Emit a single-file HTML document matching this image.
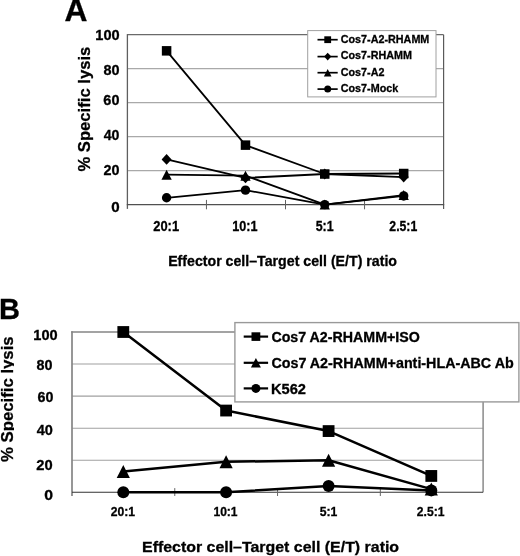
<!DOCTYPE html>
<html><head><meta charset="utf-8"><title>Specific lysis chart</title><style>
html,body{margin:0;padding:0;background:#fff;width:520px;height:556px;overflow:hidden;}
svg{display:block;filter:grayscale(1);}
text{font-family:"Liberation Sans", sans-serif;font-weight:bold;fill:#000;stroke:#000;stroke-width:0.3px;}
</style></head><body>
<svg width="520" height="556" viewBox="0 0 520 556">
<defs>
<clipPath id="cA"><rect x="60" y="30" width="30.6" height="150"/></clipPath>
<clipPath id="cB"><rect x="-5" y="320" width="19" height="150"/></clipPath>
</defs>
<line x1="127.40" y1="170.62" x2="443.60" y2="170.62" stroke="#a9a9a9" stroke-width="1.2"/>
<line x1="127.40" y1="136.64" x2="443.60" y2="136.64" stroke="#a9a9a9" stroke-width="1.2"/>
<line x1="127.40" y1="102.66" x2="443.60" y2="102.66" stroke="#a9a9a9" stroke-width="1.2"/>
<line x1="127.40" y1="68.68" x2="443.60" y2="68.68" stroke="#a9a9a9" stroke-width="1.2"/>
<line x1="127.40" y1="34.70" x2="443.60" y2="34.70" stroke="#6a6a6a" stroke-width="1.2"/>
<line x1="443.60" y1="34.70" x2="443.60" y2="209.10" stroke="#5a5a5a" stroke-width="1.2"/>
<line x1="127.40" y1="34.10" x2="127.40" y2="208.90" stroke="#5f5f5f" stroke-width="1.3"/>
<line x1="126.80" y1="204.60" x2="444.20" y2="204.60" stroke="#505050" stroke-width="1.4"/>
<line x1="206.45" y1="199.90" x2="206.45" y2="209.30" stroke="#606060" stroke-width="1.0"/>
<line x1="285.50" y1="199.90" x2="285.50" y2="209.30" stroke="#606060" stroke-width="1.0"/>
<line x1="364.55" y1="199.90" x2="364.55" y2="209.30" stroke="#606060" stroke-width="1.0"/>
<polyline points="166.60,159.41 245.50,177.93 324.75,174.02 403.70,177.08" fill="none" stroke="#000" stroke-width="1.8" stroke-linejoin="round"/>
<polyline points="166.60,174.70 245.50,175.72 324.75,204.60 403.70,195.09" fill="none" stroke="#000" stroke-width="1.8" stroke-linejoin="round"/>
<polyline points="166.60,197.80 245.50,190.16 324.75,204.60 403.70,195.94" fill="none" stroke="#000" stroke-width="1.8" stroke-linejoin="round"/>
<polyline points="166.60,50.84 245.50,145.13 324.75,174.02 403.70,173.51" fill="none" stroke="#000" stroke-width="1.8" stroke-linejoin="round"/>
<polygon points="166.60,154.01 171.60,159.41 166.60,164.81 161.60,159.41" fill="#000"/>
<polygon points="245.50,172.53 250.50,177.93 245.50,183.33 240.50,177.93" fill="#000"/>
<polygon points="324.75,168.62 329.75,174.02 324.75,179.42 319.75,174.02" fill="#000"/>
<polygon points="403.70,171.68 408.70,177.08 403.70,182.48 398.70,177.08" fill="#000"/>
<polygon points="166.60,169.70 171.75,179.70 161.45,179.70" fill="#000"/>
<polygon points="245.50,170.72 250.65,180.72 240.35,180.72" fill="#000"/>
<polygon points="324.75,199.60 329.90,209.60 319.60,209.60" fill="#000"/>
<polygon points="403.70,190.09 408.85,200.09 398.55,200.09" fill="#000"/>
<ellipse cx="166.60" cy="197.80" rx="4.70" ry="4.70" fill="#000"/>
<ellipse cx="245.50" cy="190.16" rx="4.70" ry="4.70" fill="#000"/>
<ellipse cx="324.75" cy="204.60" rx="4.70" ry="4.70" fill="#000"/>
<ellipse cx="403.70" cy="195.94" rx="4.70" ry="4.70" fill="#000"/>
<rect x="161.85" y="46.09" width="9.50" height="9.50" fill="#000"/>
<rect x="240.75" y="140.38" width="9.50" height="9.50" fill="#000"/>
<rect x="320.00" y="169.27" width="9.50" height="9.50" fill="#000"/>
<rect x="398.95" y="168.76" width="9.50" height="9.50" fill="#000"/>
<text x="95.39" y="39.87" font-size="14.00" textLength="24.31" lengthAdjust="spacingAndGlyphs">100</text>
<text x="103.43" y="75.02" font-size="14.00" textLength="16.08" lengthAdjust="spacingAndGlyphs">80</text>
<text x="103.36" y="105.02" font-size="14.00" textLength="16.05" lengthAdjust="spacingAndGlyphs">60</text>
<text x="103.69" y="140.02" font-size="14.00" textLength="15.71" lengthAdjust="spacingAndGlyphs">40</text>
<text x="103.40" y="175.02" font-size="14.00" textLength="16.01" lengthAdjust="spacingAndGlyphs">20</text>
<text x="111.19" y="211.87" font-size="14.00" textLength="8.43" lengthAdjust="spacingAndGlyphs">0</text>
<text x="153.25" y="230.70" font-size="14.20" textLength="25.83" lengthAdjust="spacingAndGlyphs">20:1</text>
<text x="232.31" y="230.70" font-size="14.20" textLength="25.25" lengthAdjust="spacingAndGlyphs">10:1</text>
<text x="315.63" y="230.70" font-size="14.20" textLength="17.92" lengthAdjust="spacingAndGlyphs">5:1</text>
<text x="389.37" y="230.70" font-size="14.20" textLength="27.89" lengthAdjust="spacingAndGlyphs">2.5:1</text>
<text x="168.14" y="265.70" font-size="14.30" textLength="228.89" lengthAdjust="spacingAndGlyphs">Effector cell–Target cell (E/T) ratio</text>
<g><text transform="translate(89.80,171.20) rotate(-90)" x="-0.42" y="0" font-size="17.30" textLength="124.91" lengthAdjust="spacingAndGlyphs">% Specific lysis</text></g>
<text x="64.61" y="21.40" font-size="31.50" textLength="22.96" lengthAdjust="spacingAndGlyphs">A</text>
<rect x="307.7" y="30.6" width="128.3" height="66.3" fill="#fff" stroke="#a0a0a0" stroke-width="1"/>
<line x1="317.50" y1="39.70" x2="337.70" y2="39.70" stroke="#000" stroke-width="1.7"/>
<rect x="324.30" y="36.30" width="6.80" height="6.80" fill="#000"/>
<text x="340.77" y="43.10" font-size="11.50" textLength="88.56" lengthAdjust="spacingAndGlyphs">Cos7-A2-RHAMM</text>
<line x1="317.50" y1="56.60" x2="337.70" y2="56.60" stroke="#000" stroke-width="1.7"/>
<polygon points="327.70,52.70 331.30,56.60 327.70,60.50 324.10,56.60" fill="#000"/>
<text x="340.77" y="59.30" font-size="11.50" textLength="71.20" lengthAdjust="spacingAndGlyphs">Cos7-RHAMM</text>
<line x1="317.50" y1="72.70" x2="337.70" y2="72.70" stroke="#000" stroke-width="1.7"/>
<polygon points="327.70,68.90 331.50,76.50 323.90,76.50" fill="#000"/>
<text x="340.77" y="75.60" font-size="11.50" textLength="43.69" lengthAdjust="spacingAndGlyphs">Cos7-A2</text>
<line x1="317.50" y1="89.10" x2="337.70" y2="89.10" stroke="#000" stroke-width="1.7"/>
<ellipse cx="327.70" cy="89.10" rx="3.50" ry="3.50" fill="#000"/>
<text x="340.77" y="92.40" font-size="11.50" textLength="57.45" lengthAdjust="spacingAndGlyphs">Cos7-Mock</text>
<line x1="72.00" y1="460.24" x2="483.10" y2="460.24" stroke="#a0a0a0" stroke-width="1.1"/>
<line x1="72.00" y1="428.18" x2="483.10" y2="428.18" stroke="#a0a0a0" stroke-width="1.1"/>
<line x1="72.00" y1="396.12" x2="483.10" y2="396.12" stroke="#a0a0a0" stroke-width="1.1"/>
<line x1="72.00" y1="364.06" x2="483.10" y2="364.06" stroke="#a0a0a0" stroke-width="1.1"/>
<line x1="71.20" y1="332.00" x2="483.10" y2="332.00" stroke="#858585" stroke-width="1.7"/>
<line x1="483.10" y1="332.00" x2="483.10" y2="492.30" stroke="#8a8a8a" stroke-width="1.5"/>
<line x1="72.00" y1="331.20" x2="72.00" y2="495.90" stroke="#858585" stroke-width="1.7"/>
<line x1="72.00" y1="492.30" x2="483.10" y2="492.30" stroke="#333" stroke-width="1.1"/>
<line x1="174.78" y1="488.10" x2="174.78" y2="496.00" stroke="#666" stroke-width="1.0"/>
<line x1="277.55" y1="488.10" x2="277.55" y2="496.00" stroke="#666" stroke-width="1.0"/>
<line x1="380.33" y1="488.10" x2="380.33" y2="496.00" stroke="#666" stroke-width="1.0"/>
<polyline points="123.30,332.00 226.10,410.55 328.60,431.07 431.30,475.95" fill="none" stroke="#000" stroke-width="2.5" stroke-linejoin="round"/>
<polyline points="123.30,471.46 226.10,461.84 328.60,460.24 431.30,489.09" fill="none" stroke="#000" stroke-width="2.5" stroke-linejoin="round"/>
<polyline points="123.30,492.30 226.10,492.30 328.60,485.89 431.30,490.38" fill="none" stroke="#000" stroke-width="2.5" stroke-linejoin="round"/>
<rect x="117.40" y="326.10" width="11.80" height="11.80" fill="#000"/>
<rect x="220.20" y="404.65" width="11.80" height="11.80" fill="#000"/>
<rect x="322.70" y="425.17" width="11.80" height="11.80" fill="#000"/>
<rect x="425.40" y="470.05" width="11.80" height="11.80" fill="#000"/>
<polygon points="123.30,464.96 129.90,477.96 116.70,477.96" fill="#000"/>
<polygon points="226.10,455.34 232.70,468.34 219.50,468.34" fill="#000"/>
<polygon points="328.60,453.74 335.20,466.74 322.00,466.74" fill="#000"/>
<polygon points="431.30,482.59 437.90,495.59 424.70,495.59" fill="#000"/>
<ellipse cx="123.30" cy="492.30" rx="6.00" ry="6.00" fill="#000"/>
<ellipse cx="226.10" cy="492.30" rx="6.00" ry="6.00" fill="#000"/>
<ellipse cx="328.60" cy="485.89" rx="6.00" ry="6.00" fill="#000"/>
<ellipse cx="431.30" cy="490.38" rx="6.00" ry="6.00" fill="#000"/>
<text x="33.39" y="339.68" font-size="13.90" textLength="24.31" lengthAdjust="spacingAndGlyphs">100</text>
<text x="36.53" y="370.18" font-size="13.90" textLength="15.97" lengthAdjust="spacingAndGlyphs">80</text>
<text x="37.57" y="402.03" font-size="13.90" textLength="15.84" lengthAdjust="spacingAndGlyphs">60</text>
<text x="36.68" y="434.58" font-size="13.90" textLength="16.13" lengthAdjust="spacingAndGlyphs">40</text>
<text x="36.29" y="469.98" font-size="13.90" textLength="16.34" lengthAdjust="spacingAndGlyphs">20</text>
<text x="44.17" y="500.18" font-size="13.90" textLength="8.78" lengthAdjust="spacingAndGlyphs">0</text>
<text x="110.77" y="516.10" font-size="13.00" textLength="24.38" lengthAdjust="spacingAndGlyphs">20:1</text>
<text x="213.45" y="516.10" font-size="13.00" textLength="24.10" lengthAdjust="spacingAndGlyphs">10:1</text>
<text x="319.63" y="516.10" font-size="13.00" textLength="17.60" lengthAdjust="spacingAndGlyphs">5:1</text>
<text x="416.87" y="516.10" font-size="13.00" textLength="27.68" lengthAdjust="spacingAndGlyphs">2.5:1</text>
<text x="142.03" y="551.80" font-size="15.40" textLength="257.08" lengthAdjust="spacingAndGlyphs">Effector cell–Target cell (E/T) ratio</text>
<g clip-path="url(#cB)"><text transform="translate(13.40,461.50) rotate(-90)" x="-0.42" y="0" font-size="17.30" textLength="125.52" lengthAdjust="spacingAndGlyphs">% Specific lysis</text></g>
<text x="-0.96" y="319.40" font-size="29.20" textLength="20.96" lengthAdjust="spacingAndGlyphs">B</text>
<rect x="234.9" y="322.6" width="284" height="79.3" fill="#fff" stroke="#999" stroke-width="1.4"/>
<line x1="243.70" y1="336.60" x2="268.10" y2="336.60" stroke="#000" stroke-width="2.2"/>
<rect x="251.50" y="332.30" width="8.80" height="8.60" fill="#000"/>
<text x="271.43" y="341.90" font-size="14.00" textLength="148.36" lengthAdjust="spacingAndGlyphs">Cos7 A2-RHAMM+ISO</text>
<line x1="243.70" y1="362.80" x2="268.10" y2="362.80" stroke="#000" stroke-width="2.2"/>
<polygon points="255.90,358.00 260.90,367.60 250.90,367.60" fill="#000"/>
<text x="271.43" y="368.10" font-size="14.00" textLength="242.26" lengthAdjust="spacingAndGlyphs">Cos7 A2-RHAMM+anti-HLA-ABC Ab</text>
<line x1="243.70" y1="388.40" x2="268.10" y2="388.40" stroke="#000" stroke-width="2.2"/>
<ellipse cx="255.90" cy="388.40" rx="4.50" ry="4.50" fill="#000"/>
<text x="271.01" y="393.70" font-size="14.00" textLength="34.98" lengthAdjust="spacingAndGlyphs">K562</text>
</svg></body></html>
